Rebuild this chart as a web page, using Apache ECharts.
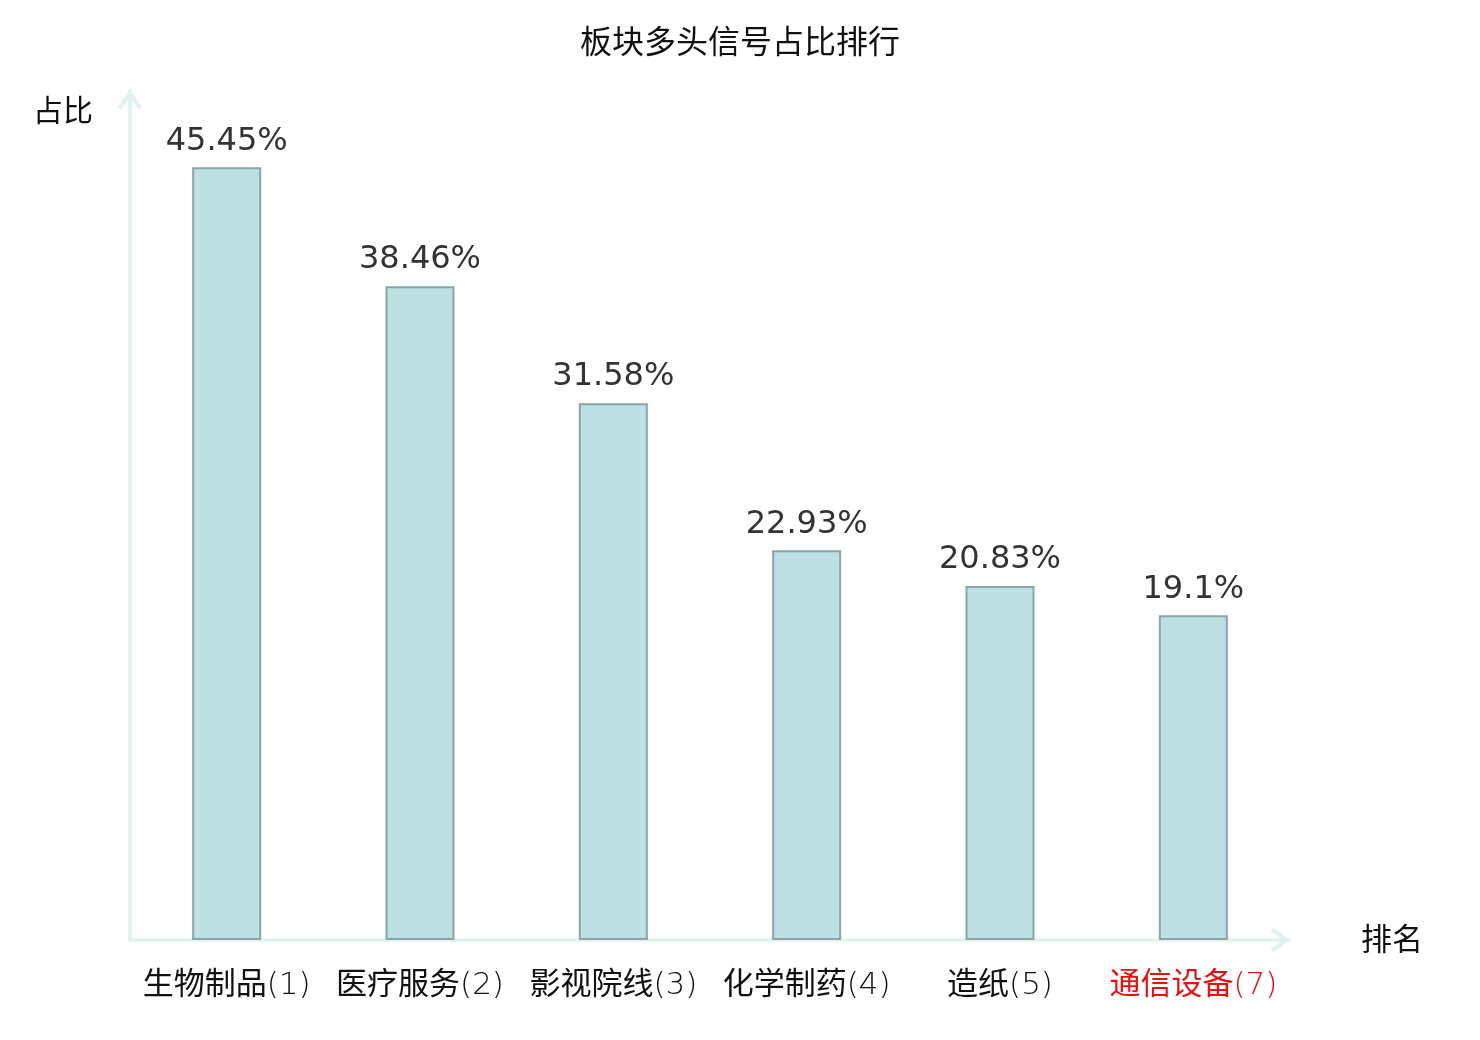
<!DOCTYPE html>
<html>
<head>
<meta charset="utf-8">
<script src="https://cdn.jsdelivr.net/npm/echarts@6/dist/echarts.min.js"></script>
<style>
html,body{margin:0;padding:0;background:#fff;}
#chart{width:1480px;height:1040px;}
</style>
</head>
<body>
<div id="chart"></div>
<script>
var titleText = '板块多头信号占比排行';
var categories = ['生物制品(1)', '医疗服务(2)', '影视院线(3)', '化学制药(4)', '造纸(5)', '通信设备(7)'];
var values = [45.45, 38.46, 31.58, 22.93, 20.83, 19.1];
var highlighted = [false, false, false, false, false, true];
var yName = '占比';
var xName = '排名';

var FONT = "'DejaVu Sans', 'Noto Sans CJK SC', sans-serif";
var AXIS_COLOR = '#dff2ef';
var chevron = 'path://M0,16.5 L12,0 L24,16.5 L21,19.5 L12,6 L3,19.5 Z';

var chart = echarts.init(document.getElementById('chart'));
chart.setOption({
  backgroundColor: '#ffffff',
  animation: false,
  title: {
    text: titleText,
    left: 'center',
    top: 24,
    textStyle: { fontSize: 32, fontWeight: 'normal', color: '#111', fontFamily: FONT }
  },
  grid: { left: 130, right: 190, top: 90, bottom: 100 },
  xAxis: {
    type: 'category',
    data: categories,
    name: xName,
    nameLocation: 'end',
    nameGap: 71,
    nameTextStyle: { fontSize: 31, color: '#111', fontFamily: FONT, verticalAlign: 'top', padding: [-14, 0, 0, 0] },
    axisLine: {
      show: true,
      symbol: ['none', chevron],
      symbolSize: [24, 20],
      symbolOffset: [0, -10],
      lineStyle: { color: AXIS_COLOR, width: 3.5 }
    },
    axisTick: { show: false },
    axisLabel: {
      interval: 0,
      margin: 30,
      fontSize: 31,
      fontFamily: FONT,
      color: function (value, index) {
        return highlighted[index] ? '#e8100e' : '#111';
      },
      formatter: function (value, index) {
        var m = value.match(/^(.*?)(\(.*\))$/);
        var style = highlighted[index] ? 'r' : 'k';
        var styleN = highlighted[index] ? 'rn' : 'kn';
        if (!m) return '{' + style + '|' + value + '}';
        return '{' + style + '|' + m[1] + '}{' + styleN + '|' + m[2] + '}';
      },
      rich: {
        k: { fontSize: 31, fontFamily: FONT, fontWeight: 'normal', color: '#111' },
        kn: { fontSize: 31, fontFamily: "'DejaVu Sans', sans-serif", fontWeight: 200, color: '#111' },
        r: { fontSize: 31, fontFamily: FONT, fontWeight: 'normal', color: '#e8100e' },
        rn: { fontSize: 31, fontFamily: "'DejaVu Sans', sans-serif", fontWeight: 200, color: '#e8100e' }
      }
    },
    splitLine: { show: false }
  },
  yAxis: {
    type: 'value',
    min: 0,
    max: 50,
    name: yName,
    nameLocation: 'end',
    nameGap: -23,
    nameTextStyle: { fontSize: 30, color: '#111', fontFamily: FONT, align: 'right', verticalAlign: 'middle', padding: [0, 37, 0, 0] },
    axisLine: {
      show: true,
      symbol: ['none', chevron],
      symbolSize: [24, 20],
      symbolOffset: [0, -10],
      lineStyle: { color: AXIS_COLOR, width: 3.5 }
    },
    axisTick: { show: false },
    axisLabel: { show: false },
    splitLine: { show: false }
  },
  series: [{
    type: 'bar',
    data: values,
    barWidth: 69,
    itemStyle: { color: '#bde0e3', borderColor: '#8aa5a5', borderWidth: 2 },
    label: {
      show: true,
      position: 'top',
      distance: 10,
      fontSize: 32,
      color: '#333',
      fontFamily: FONT,
      formatter: function (p) { return p.value + '%'; }
    }
  }]
});
</script>
</body>
</html>
